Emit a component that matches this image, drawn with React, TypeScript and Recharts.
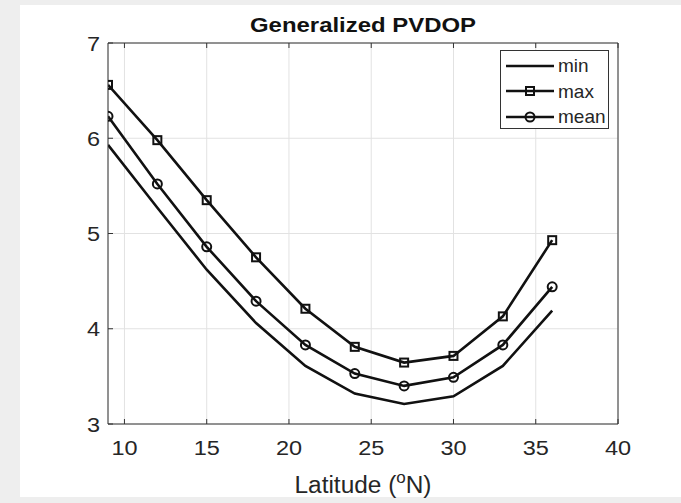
import React from "react";
import { CartesianGrid, Line, LineChart, XAxis, YAxis } from "recharts";

// latitude (°N) and the three PVDOP curves
const latitudes = [9, 12, 15, 18, 21, 24, 27, 30, 33, 36];
const minValues = [5.93, 5.27, 4.62, 4.06, 3.61, 3.32, 3.21, 3.29, 3.61, 4.19];
const maxValues = [6.56, 5.98, 5.35, 4.75, 4.21, 3.81, 3.645, 3.715, 4.13, 4.93];
const meanValues = [6.23, 5.52, 4.86, 4.29, 3.83, 3.53, 3.4, 3.49, 3.83, 4.44];

const xTicks = [10, 15, 20, 25, 30, 35, 40];
const yTicks = [3, 4, 5, 6, 7];

const data = latitudes.map((lat, i) => ({
  lat,
  min: minValues[i],
  max: maxValues[i],
  mean: meanValues[i],
}));

const FONT = "'Liberation Sans', Arial, Helvetica, sans-serif";
const INK = "#111";
const TXT = "#262626";
const TICK = 5;

const BottomTick = (p: any) => (
  <g>
    <line x1={p.x} y1={p.y} x2={p.x} y2={p.y - TICK} stroke="#333" />
    <text
      transform={`translate(${p.x},${p.y + 31}) scale(1.12,1)`}
      textAnchor="middle"
      fontSize={21}
      fontFamily={FONT}
      fill={TXT}
    >
      {p.payload.value}
    </text>
  </g>
);

const LeftTick = (p: any) => (
  <g>
    <line x1={p.x} y1={p.y} x2={p.x + TICK} y2={p.y} stroke="#333" />
    <text
      transform={`translate(${p.x - 8},${p.y + 7.5}) scale(1.12,1)`}
      textAnchor="end"
      fontSize={21}
      fontFamily={FONT}
      fill={TXT}
    >
      {p.payload.value}
    </text>
  </g>
);

const TopTick = (p: any) => (
  <line x1={p.x} y1={p.y} x2={p.x} y2={p.y + TICK} stroke="#333" />
);

const RightTick = (p: any) => (
  <line x1={p.x} y1={p.y} x2={p.x - TICK} y2={p.y} stroke="#333" />
);

const SquareDot = (p: any) => (
  <rect
    key={`sq-${p.index}`}
    x={p.cx - 4}
    y={p.cy - 4}
    width={8}
    height={8}
    fill="none"
    stroke={INK}
    strokeWidth={2}
  />
);

const CircleDot = (p: any) => (
  <circle
    key={`ci-${p.index}`}
    cx={p.cx}
    cy={p.cy}
    r={4.5}
    fill="none"
    stroke={INK}
    strokeWidth={2}
  />
);

const legendRows = [
  { name: "min", marker: "none" },
  { name: "max", marker: "square" },
  { name: "mean", marker: "circle" },
];

const LegendBox = () => (
  <div
    style={{
      position: "absolute",
      left: 500,
      top: 50,
      width: 107,
      height: 75,
      border: "1px solid #333",
      background: "#fff",
      paddingTop: 2,
    }}
  >
    {legendRows.map((r) => (
      <div
        key={r.name}
        style={{ height: 25.5, display: "flex", alignItems: "center" }}
      >
        <svg width={54} height={14} style={{ marginLeft: 3 }}>
          <line x1={2} y1={7} x2={50} y2={7} stroke={INK} strokeWidth={2.5} />
          {r.marker === "square" && (
            <rect x={22} y={3} width={8} height={8} fill="none" stroke={INK} strokeWidth={2} />
          )}
          {r.marker === "circle" && (
            <circle cx={26} cy={7} r={4.5} fill="none" stroke={INK} strokeWidth={2} />
          )}
        </svg>
        <span
          style={{
            fontFamily: FONT,
            fontSize: 19,
            color: TXT,
            lineHeight: "19px",
          }}
        >
          {r.name}
        </span>
      </div>
    ))}
  </div>
);

export default function App() {
  return (
    <div
      style={{
        position: "absolute",
        left: 0,
        top: 0,
        width: 681,
        height: 503,
        background: "#eeeeee",
        overflow: "hidden",
      }}
    >
      <div
        style={{
          position: "absolute",
          left: 20,
          top: 5,
          width: 661,
          height: 492,
          background: "#fff",
        }}
      />
      <div style={{ position: "absolute", left: 0, top: 0 }}>
        <LineChart
          width={681}
          height={503}
          data={data}
          margin={{ top: 33, right: 53, bottom: 49, left: 48 }}
        >
          <CartesianGrid stroke="#e2e2e2" strokeWidth={1} />
          <XAxis
            dataKey="lat"
            type="number"
            domain={[9, 40]}
            ticks={xTicks}
            height={30}
            tickSize={0}
            tickMargin={0}
            axisLine={{ stroke: "#333" }}
            tickLine={false}
            tick={<BottomTick />}
            interval={0}
            allowDataOverflow
          />
          <XAxis
            xAxisId="top"
            orientation="top"
            dataKey="lat"
            type="number"
            domain={[9, 40]}
            ticks={xTicks}
            height={10}
            tickSize={0}
            tickMargin={0}
            axisLine={{ stroke: "#333" }}
            tickLine={false}
            tick={<TopTick />}
            interval={0}
          />
          <YAxis
            type="number"
            domain={[3, 7]}
            ticks={yTicks}
            width={60}
            tickSize={0}
            tickMargin={0}
            axisLine={{ stroke: "#333" }}
            tickLine={false}
            tick={<LeftTick />}
            interval={0}
          />
          <YAxis
            yAxisId="right"
            orientation="right"
            type="number"
            domain={[3, 7]}
            ticks={yTicks}
            width={10}
            tickSize={0}
            tickMargin={0}
            axisLine={{ stroke: "#333" }}
            tickLine={false}
            tick={<RightTick />}
            interval={0}
          />
          <Line
            dataKey="min"
            stroke={INK}
            strokeWidth={2.6}
            dot={false}
            activeDot={false}
            isAnimationActive={false}
          />
          <Line
            dataKey="max"
            stroke={INK}
            strokeWidth={2.6}
            dot={SquareDot}
            activeDot={false}
            isAnimationActive={false}
          />
          <Line
            dataKey="mean"
            stroke={INK}
            strokeWidth={2.6}
            dot={CircleDot}
            activeDot={false}
            isAnimationActive={false}
          />
        </LineChart>
      </div>
      <LegendBox />
      <svg
        width={681}
        height={503}
        style={{ position: "absolute", left: 0, top: 0, pointerEvents: "none" }}
      >
        <text
          x={363}
          y={32}
          textAnchor="middle"
          fontFamily={FONT}
          fontWeight="bold"
          fontSize={21}
          fill={INK}
          textLength={226}
          lengthAdjust="spacingAndGlyphs"
        >
          Generalized PVDOP
        </text>
        <text
          x={363}
          y={493}
          textAnchor="middle"
          fontFamily={FONT}
          fontSize={23}
          fill={TXT}
          textLength={137}
          lengthAdjust="spacingAndGlyphs"
        >
          Latitude (
          <tspan fontSize={16} dy={-10}>
            o
          </tspan>
          <tspan dy={10}>N)</tspan>
        </text>
      </svg>
    </div>
  );
}
